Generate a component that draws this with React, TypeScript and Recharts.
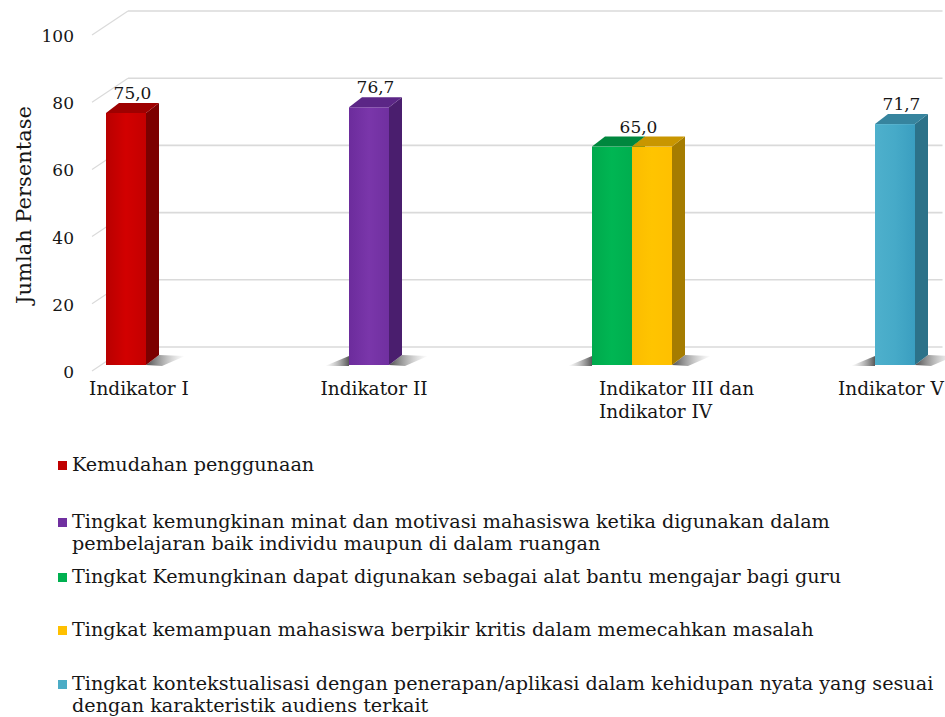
import React from "react";
import { BarChart, Bar, XAxis, YAxis, CartesianGrid, Label } from "recharts";

const categories = ["Indikator I", "Indikator II", "Indikator III dan Indikator IV", "Indikator V"];
const categoryLines = [["Indikator I"], ["Indikator II"], ["Indikator III dan", "Indikator IV"], ["Indikator V"]];

const kemudahan = [75.0, null, null, null];
const minatMotivasi = [null, 76.7, null, null];
const alatBantu = [null, null, 65.0, null];
const berpikirKritis = [null, null, 65.0, null];
const kontekstualisasi = [null, null, null, 71.7];

const yTicks = [0, 20, 40, 60, 80, 100];

const seriesNames = [
  "Kemudahan penggunaan",
  "Tingkat kemungkinan minat dan motivasi mahasiswa ketika digunakan dalam\npembelajaran baik individu maupun di dalam ruangan",
  "Tingkat Kemungkinan dapat digunakan sebagai alat bantu mengajar bagi guru",
  "Tingkat kemampuan mahasiswa berpikir kritis dalam memecahkan masalah",
  "Tingkat kontekstualisasi dengan penerapan/aplikasi dalam kehidupan nyata yang sesuai\ndengan karakteristik audiens terkait",
];
const seriesValues = [kemudahan, minatMotivasi, alatBantu, berpikirKritis, kontekstualisasi];
const seriesKeys = ["s0", "s1", "s2", "s3", "s4"];

const palette = [
  { front: ["#b80000", "#d20000", "#c40000"], side: "#7c0000", top: "#9e0000", legend: "#c00000" },
  { front: ["#6c2c9c", "#7a36aa", "#7030a0"], side: "#4a1e6e", top: "#5b2686", legend: "#7030a0" },
  { front: ["#00a94c", "#00b653", "#00ae4f"], side: "#007a38", top: "#00873e", legend: "#00b050" },
  { front: ["#fbbc00", "#ffc400", "#ffc000"], side: "#a57c00", top: "#c99600", legend: "#ffc000" },
  { front: ["#4eb0cc", "#46aac8", "#3a9ec0"], side: "#2c7289", top: "#36849e", legend: "#4bacc6" },
];

const chartData = categories.map((name, i) => {
  const row: any = { name, idx: i };
  seriesKeys.forEach((k, s) => (row[k] = seriesValues[s][i]));
  return row;
});

const FONT = "'DejaVu Serif', serif";
const INK = "#161616";
const DX = 13;
const DY = 10;

const tickAnchor = ["middle", "middle", "start", "start"];
const tickDx = [-67, -35, -13, 23];

const fmt = (v: number) => v.toFixed(1).replace(".", ",");

const hasVal = (row: any, s: number) => s >= 0 && s < seriesKeys.length && row[seriesKeys[s]] != null;

const makeBar3D = (si: number) => (props: any) => {
  const { x, y, width, height, payload } = props;
  if (height == null || !(height > 0) || !payload) return null;
  const row = payload;
  const left = !hasVal(row, si - 1) && row.idx > 0;
  const right = !hasVal(row, si + 1);
  const showLabel = !hasVal(row, si - 1);
  const pair = hasVal(row, si + 1);
  const c = palette[si];
  const b = y + height;
  const r = x + width;
  const lx = x + ((pair ? 2 : 1) * width) / 2 + DX / 2;
  return (
    <g>
      {left && (
        <polygon points={`${x - 24},${b + 1} ${x},${b - 9} ${x},${b + 1}`} fill="url(#shadowL)" />
      )}
      {right && (
        <polygon
          points={`${r},${b} ${r + DX},${b - DY} ${r + DX + 26},${b - DY + 1} ${r + 16},${b + 1}`}
          fill="url(#shadowR)"
        />
      )}
      <rect x={x} y={y} width={width} height={height} fill={`url(#front${si})`} />
      <polygon points={`${r},${y} ${r + DX},${y - DY} ${r + DX},${b - DY} ${r},${b}`} fill={c.side} />
      <polygon points={`${x},${y} ${x + DX},${y - DY} ${r + DX},${y - DY} ${r},${y}`} fill={c.top} />
      {showLabel && (
        <text x={lx} y={y - DY - 4} textAnchor="middle" fontFamily={FONT} fontSize={17} fill={INK}>
          {fmt(Number(row[seriesKeys[si]]))}
        </text>
      )}
    </g>
  );
};

const GridLine = (p: any) => {
  const { x1, x2, y1 } = p;
  return (
    <g key={p.key}>
      <line x1={x1 - 12.5} y1={y1 + 6} x2={x1 + 23.5} y2={y1 - 18} stroke="#dadada" strokeWidth={1.2} />
      <line x1={x1 + 23.5} y1={y1 - 18} x2={x2 + 26} y2={y1 - 18} stroke="#dadada" strokeWidth={1.6} />
    </g>
  );
};

const YTick = (p: any) => (
  <text x={74} y={p.y + 7} dy="0.35em" textAnchor="end" fontFamily={FONT} fontSize={17} fill={INK}>
    {p.payload.value}
  </text>
);

const XTick = (p: any) => {
  const i = p.index;
  const lines = categoryLines[i] || [];
  return (
    <text x={p.x + tickDx[i]} y={395} textAnchor={tickAnchor[i] as any} fontFamily={FONT} fontSize={18.5} fill={INK}>
      {lines.map((l, k) => (
        <tspan key={k} x={p.x + tickDx[i]} y={395 + k * 23}>
          {l}
        </tspan>
      ))}
    </text>
  );
};

const legendTops = [454, 511, 566, 619, 673];

export default function App() {
  return (
    <div style={{ position: "absolute", left: 0, top: 0, width: 945, height: 717, background: "#fff", overflow: "hidden" }}>
      <BarChart
        width={945}
        height={440}
        data={chartData}
        margin={{ top: 29, right: 28.5, left: 0, bottom: 15 }}
        barCategoryGap={1.5}
        barGap={0}
      >
        <defs>
          {palette.map((c, i) => (
            <linearGradient key={i} id={`front${i}`} x1="0" y1="0" x2="1" y2="0">
              <stop offset="0%" stopColor={c.front[0]} />
              <stop offset="50%" stopColor={c.front[1]} />
              <stop offset="100%" stopColor={c.front[2]} />
            </linearGradient>
          ))}
          <linearGradient id="shadowR" x1="0" y1="0" x2="1" y2="0">
            <stop offset="0%" stopColor="#3a3a3a" stopOpacity={0.9} />
            <stop offset="100%" stopColor="#9a9a9a" stopOpacity={0} />
          </linearGradient>
          <linearGradient id="shadowL" x1="1" y1="0" x2="0" y2="0">
            <stop offset="0%" stopColor="#3a3a3a" stopOpacity={0.85} />
            <stop offset="100%" stopColor="#9a9a9a" stopOpacity={0} />
          </linearGradient>
        </defs>
        <CartesianGrid vertical={false} horizontal={GridLine as any} />
        <XAxis dataKey="name" axisLine={false} tickLine={false} height={60} interval={0} tick={<XTick />} />
        <YAxis
          domain={[0, 100]}
          ticks={yTicks}
          axisLine={false}
          tickLine={false}
          width={104.5}
          tick={<YTick />}
        >
          <Label
            content={() => (
              <text
                transform="translate(31,205) rotate(-90)"
                textAnchor="middle"
                fontFamily={FONT}
                fontSize={21}
                fill={INK}
              >
                Jumlah Persentase
              </text>
            )}
          />
        </YAxis>
        {seriesKeys.map((k, i) => (
          <Bar key={k} dataKey={k} name={seriesNames[i]} fill={palette[i].legend} shape={makeBar3D(i)} isAnimationActive={false} />
        ))}
      </BarChart>
      {seriesNames.map((n, i) => (
        <div
          key={i}
          style={{
            position: "absolute",
            left: 58,
            top: legendTops[i],
            fontFamily: FONT,
            fontSize: 19.2,
            lineHeight: "22px",
            color: INK,
          }}
        >
          <span
            style={{
              position: "absolute",
              left: 0,
              top: 7,
              width: 9,
              height: 9,
              background: palette[i].legend,
            }}
          />
          <div style={{ marginLeft: 14, whiteSpace: "pre" }}>{n}</div>
        </div>
      ))}
    </div>
  );
}
